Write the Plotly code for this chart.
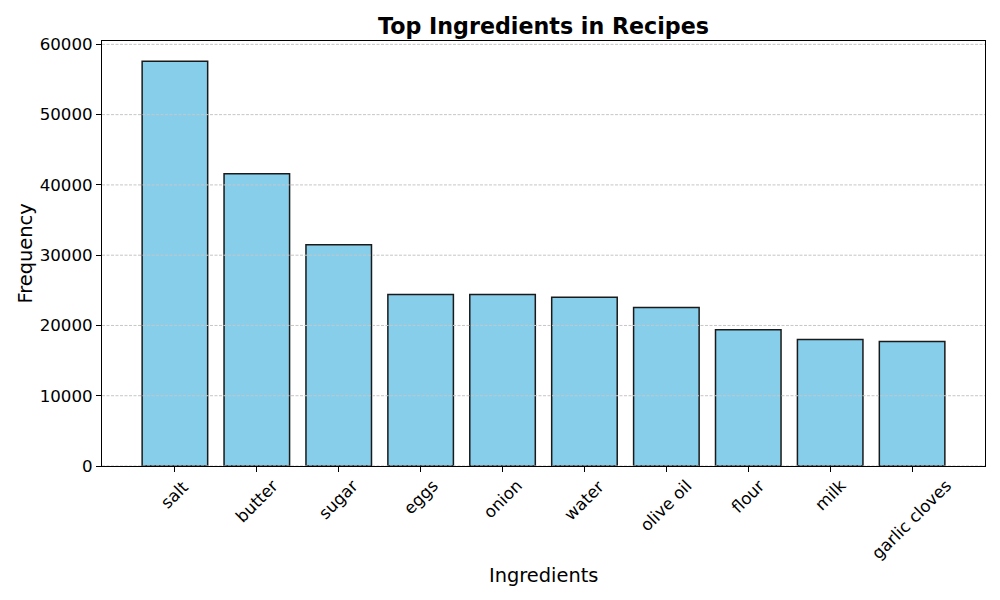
import plotly.graph_objects as go

ingredients = ["salt", "butter", "sugar", "eggs", "onion", "water",
               "olive oil", "flour", "milk", "garlic cloves"]
frequency = [57600, 41600, 31500, 24400, 24400, 24000, 22550, 19400, 18000, 17700]
y_ticks = [0, 10000, 20000, 30000, 40000, 50000, 60000]

FONT = "DejaVu Sans"
W, H = 1000, 600
L, R, T, B = 102, 15, 41, 134
plot_h = H - T - B

fig = go.Figure()
fig.add_trace(go.Bar(
    x=list(range(len(ingredients))), y=frequency, width=0.8,
    marker=dict(color="#87CEEB", line=dict(color="#1a1a1a", width=1.5)),
    hoverinfo="x+y",
))

shapes = []
for v in y_ticks:
    shapes.append(dict(type="line", xref="paper", x0=0, x1=1, yref="y", y0=v, y1=v,
                       line=dict(color="#c6c6c6", width=1, dash="3px,1.5px"),
                       layer="above"))

annotations = []
for i, name in enumerate(ingredients):
    annotations.append(dict(x=i, y=0, xref="x", yref="y", text=name, showarrow=False,
                            textangle=-45, xanchor="center", yanchor="top", yshift=-9,
                            borderpad=0, font=dict(family=FONT, size=16.67, color="black")))
annotations.append(dict(x=0.5, y=(T + plot_h - 575) / plot_h, xref="paper", yref="paper",
                        text="Ingredients", showarrow=False, xanchor="center", yanchor="middle",
                        font=dict(family=FONT, size=19.4, color="black")))
annotations.append(dict(x=(25 - L) / (W - L - R), y=0.5, xref="paper", yref="paper",
                        text="Frequency", showarrow=False, textangle=-90,
                        xanchor="center", yanchor="middle",
                        font=dict(family=FONT, size=19.4, color="black")))

fig.update_layout(
    width=W, height=H, margin=dict(l=L, r=R, t=T, b=B),
    paper_bgcolor="white", plot_bgcolor="white", showlegend=False,
    title=dict(text="<b>Top Ingredients in Recipes</b>", x=0.5, xref="paper",
               y=1 - 26 / H, yref="container", xanchor="center", yanchor="middle",
               font=dict(family=FONT, size=22.2, color="black")),
    xaxis=dict(range=[-0.89, len(ingredients) - 1 + 0.89], tickmode="array",
               tickvals=list(range(len(ingredients))), showticklabels=False,
               ticks="outside", ticklen=5, tickwidth=1, tickcolor="black",
               showgrid=False, zeroline=False, showline=True, linecolor="black",
               linewidth=1, mirror=True),
    yaxis=dict(range=[0, max(frequency) * 1.05], tickmode="array", tickvals=y_ticks,
               ticktext=[str(v) for v in y_ticks],
               ticks="outside", ticklen=5, tickwidth=1, tickcolor="black",
               tickfont=dict(family=FONT, size=16.67, color="black"),
               showgrid=False, zeroline=False, showline=True, linecolor="black",
               linewidth=1, mirror=True),
    shapes=shapes, annotations=annotations,
)

fig.write_html("out.html")
